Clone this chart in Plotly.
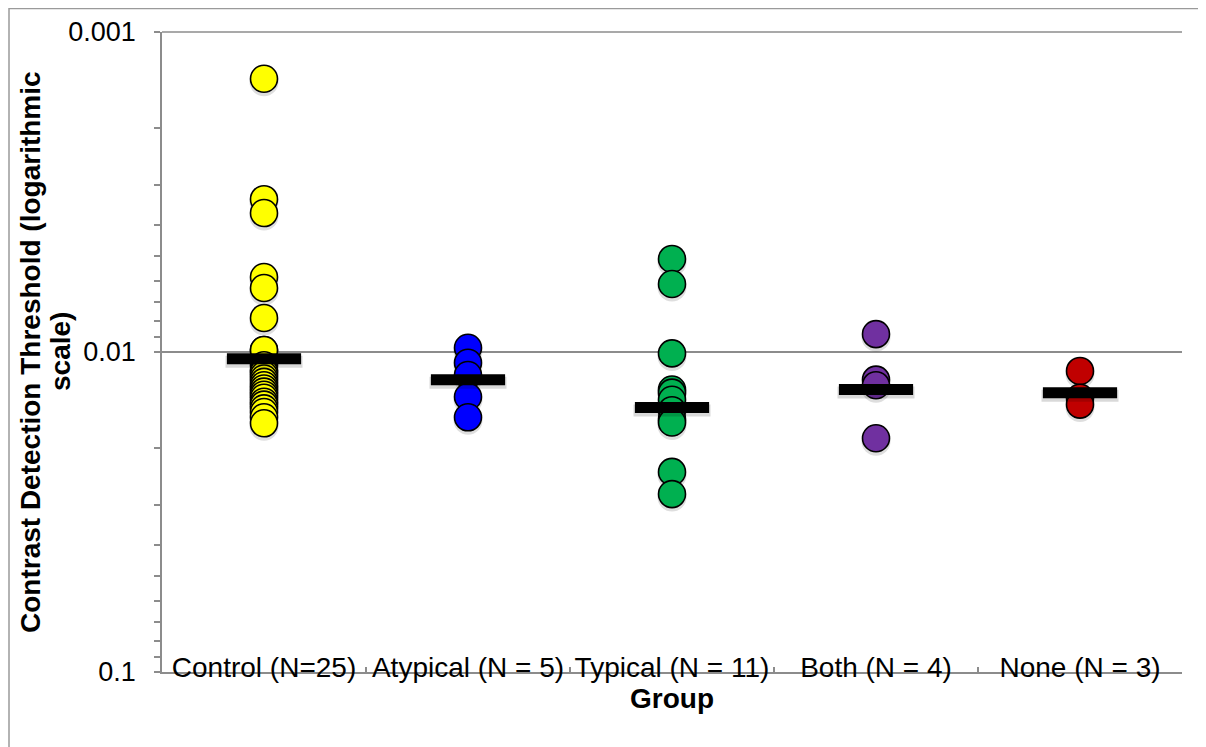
import plotly.graph_objects as go

categories = ["Control (N=25)", "Atypical (N = 5)", "Typical (N = 11)", "Both (N = 4)", "None (N = 3)"]

control = [0.00140, 0.00333, 0.00368, 0.00583, 0.00631, 0.00783, 0.00986, 0.00986,
           0.0110, 0.0114, 0.01155, 0.0118, 0.0121, 0.0124, 0.0127, 0.0130, 0.0133,
           0.0136, 0.0139, 0.0143, 0.0146, 0.0150, 0.0154, 0.0160, 0.0167]
atypical = [0.0097, 0.0108, 0.0118, 0.0138, 0.0160]
typical = [0.00512, 0.00613, 0.0101, 0.0131, 0.0134, 0.0141, 0.0152, 0.0162, 0.0166, 0.0237, 0.0278]
both = [0.00879, 0.0122, 0.0127, 0.0186]
none = [0.01146, 0.0139, 0.0146]
group_means = [0.0105, 0.0122, 0.0149, 0.0131, 0.0134]

series = [control, atypical, typical, both, none]
colors = ["#FFFF00", "#0000FF", "#00B050", "#7030A0", "#C00000"]

y_tickvals = [0.001, 0.01, 0.1]
y_ticktext = ["0.001", "0.01", "0.1"]
y_minor_vals = [0.002, 0.003, 0.004, 0.005, 0.006, 0.007, 0.008, 0.009,
                0.02, 0.03, 0.04, 0.05, 0.06, 0.07, 0.08, 0.09]

y_title_lines = ["Contrast Detection Threshold (logarithmic", "scale)"]
x_title = "Group"

FONT = "Liberation Sans, Arial, Helvetica, sans-serif"
GRAY = "#8c8c8c"
SHADOW = 10 ** (3 / 320)  # drop-shadow offset of ~3 px on the 320 px/decade log axis

fig = go.Figure()

# soft drop shadows
for cat, vals in zip(categories, series):
    fig.add_trace(go.Scatter(
        x=[cat] * len(vals), y=[v * SHADOW for v in vals], mode="markers",
        marker=dict(symbol="circle", size=29, color="rgba(0,0,0,0.13)", line=dict(width=0)),
        showlegend=False, hoverinfo="skip",
    ))

for cat, vals, col in zip(categories, series, colors):
    fig.add_trace(go.Scatter(
        x=[cat] * len(vals), y=vals, mode="markers",
        marker=dict(symbol="circle", size=27, color=col,
                    line=dict(color="black", width=1.6)),
        showlegend=False, hoverinfo="y",
    ))

fig.add_trace(go.Scatter(
    x=categories, y=[m * SHADOW for m in group_means], mode="markers",
    marker=dict(symbol="line-ew", size=55, color="rgba(0,0,0,0.15)",
                line=dict(color="rgba(0,0,0,0.15)", width=12)),
    showlegend=False, hoverinfo="skip",
))
fig.add_trace(go.Scatter(
    x=categories, y=group_means, mode="markers",
    marker=dict(symbol="line-ew", size=53, color="black",
                line=dict(color="black", width=11)),
    showlegend=False, hoverinfo="y",
))

fig.update_layout(
    width=1198, height=739,
    margin=dict(l=154, r=24, t=24, b=75, autoexpand=False),
    paper_bgcolor="white", plot_bgcolor="white",
    font=dict(family=FONT, color="black", size=28),
    showlegend=False,
    xaxis=dict(
        type="category", categoryorder="array", categoryarray=categories,
        range=[-0.5, len(categories) - 0.5],
        automargin=False, tickangle=0,
        showline=True, linecolor=GRAY, linewidth=1.5,
        ticks="inside", tickson="boundaries", ticklen=5, tickcolor=GRAY, tickwidth=1.5,
        showgrid=False, zeroline=False,
        tickfont=dict(family=FONT, size=28, color="black"),
        ticklabelstandoff=-30,
        title=dict(text="<b>" + x_title + "</b>", font=dict(family=FONT, size=28, color="black"), standoff=0),
    ),
    yaxis=dict(
        type="log", range=[-1, -3], automargin=False,
        tickmode="array", tickvals=y_tickvals, ticktext=y_ticktext,
        showgrid=True, gridcolor=GRAY, gridwidth=1.5,
        showline=True, linecolor=GRAY, linewidth=1.5,
        ticks="outside", ticklen=6, tickcolor=GRAY, tickwidth=1.5,
        minor=dict(tickmode="array", tickvals=y_minor_vals, ticks="outside",
                   ticklen=6, tickcolor=GRAY, tickwidth=1.5, showgrid=False),
        zeroline=False,
        tickfont=dict(family=FONT, size=27, color="black"),
        ticklabelstandoff=13,
    ),
    annotations=[
        dict(text="<b>" + y_title_lines[0] + "</b>", xref="paper", yref="paper",
             x=0, y=0.5, xshift=-132, xanchor="center", yanchor="middle",
             textangle=-90, showarrow=False, font=dict(family=FONT, size=28, color="black")),
        dict(text="<b>" + y_title_lines[1] + "</b>", xref="paper", yref="paper",
             x=0, y=0.5, xshift=-102, xanchor="center", yanchor="middle",
             textangle=-90, showarrow=False, font=dict(family=FONT, size=28, color="black")),
    ],
    shapes=[
        dict(type="rect", xref="paper", yref="paper",
             x0=-0.15, x1=1.2, y0=-0.4, y1=1.0367,
             line=dict(color="#9a9a9a", width=1.5), fillcolor="rgba(0,0,0,0)",
             layer="below"),
        dict(type="line", xref="paper", yref="paper", x0=0, x1=1, y0=1, y1=1,
             line=dict(color=GRAY, width=1.5), layer="below"),
    ],
)

fig.write_html("out.html")
